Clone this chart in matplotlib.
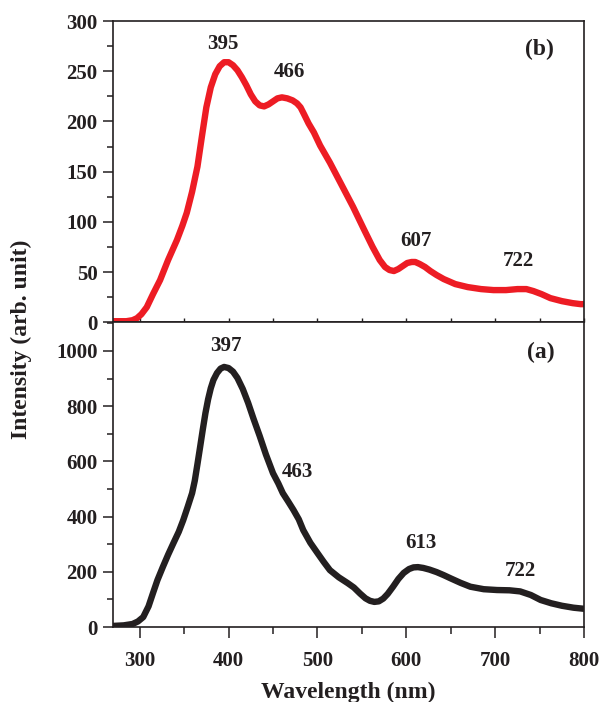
import numpy as np
import matplotlib
matplotlib.use("Agg")
import matplotlib.pyplot as plt
from matplotlib.ticker import MultipleLocator

plt.rcParams['font.family'] = ['Liberation Serif', 'DejaVu Serif']
plt.rcParams['font.weight'] = 'bold'

# (b) spectrum, red
wl_b = [270, 285, 292, 297, 302, 308, 315, 323, 332, 342, 348, 353, 359, 365, 370,
        375, 380, 385, 390, 395, 400, 405, 410, 415, 420, 425, 430, 435, 440, 445,
        450, 455, 460, 466, 472, 477, 481, 485, 490, 496, 503, 514, 527,
        540, 552, 562, 570, 576, 581, 586, 591, 596, 601, 606, 610, 615, 621, 627,
        634, 642, 655, 669, 684, 698, 712, 725, 735, 743, 752, 762, 775, 787, 796, 800]
int_b = [1, 1, 2, 4, 8, 15, 28, 42, 62, 82, 96, 109, 130, 155, 185,
         214, 234, 247, 255, 259, 259, 256, 251, 244, 236, 227, 220, 216, 215, 217,
         220, 223, 224, 223, 221, 218, 214, 207, 198, 189, 176, 159, 137,
         115, 93, 75, 62, 55, 52, 51, 53, 56, 59, 60, 60, 58, 55, 51,
         47, 43, 38, 35, 33, 32, 32, 33, 33, 31, 28, 24, 21, 19, 18, 18]

# (a) spectrum, black
wl_a = [270, 282, 292, 298, 304, 310, 315, 320, 326, 332, 338, 344, 349, 354, 359,
        362, 365, 368, 371, 374, 377, 380, 383, 387, 391, 395, 400, 405, 410, 416,
        422, 428, 435, 442, 450, 456, 461, 467, 473, 479, 484, 492, 500, 507, 514,
        524, 534, 541, 548, 554, 559, 564, 569, 574, 579, 585, 591, 597, 603, 608,
        613, 619, 626, 634, 642, 650, 661, 672, 687, 702, 716, 728, 740, 751, 763,
        775, 788, 800]
int_a = [4, 6, 11, 20, 36, 75, 123, 170, 217, 262, 304, 345, 387, 435, 485,
         530, 590, 652, 715, 775, 825, 865, 895, 920, 936, 942, 938, 925, 902, 862,
         812, 755, 692, 625, 557, 520, 485, 455, 424, 390, 351, 305, 268, 236, 206,
         180, 159, 143, 121, 104, 95, 91, 93, 103, 120, 146, 174, 196, 210, 216,
         217, 214, 208, 199, 188, 176, 160, 146, 137, 134, 133, 129, 116, 98, 86,
         77, 70, 66]

labels_b = ["395", "466", "607", "722"]
label_pos_b = [(393, 277), (469, 249), (611, 81), (726, 61)]
labels_a = ["397", "463", "613", "722"]
label_pos_a = [(397, 1017), (477, 561), (616, 304), (728, 203)]

edge = '#231f20'
fig = plt.figure(figsize=(6.01, 7.02), dpi=100)
ax_b = fig.add_axes([0.188, 0.541, 0.784, 0.429])
ax_a = fig.add_axes([0.188, 0.1068, 0.784, 0.4342], sharex=ax_b)

ax_b.plot(wl_b, int_b, color='#ed1c24', linewidth=4.6, solid_capstyle='round', solid_joinstyle='round')
ax_a.plot(wl_a, int_a, color=edge, linewidth=4.6, solid_capstyle='round', solid_joinstyle='round')

for t, (x, y) in zip(labels_b, label_pos_b):
    ax_b.text(x, y, t, ha='center', va='center', fontsize=15, fontweight='bold', color=edge)
for t, (x, y) in zip(labels_a, label_pos_a):
    ax_a.text(x, y, t, ha='center', va='center', fontsize=15, fontweight='bold', color=edge)
ax_b.text(750, 272, "(b)", ha='center', va='center', fontsize=17, fontweight='bold', color=edge)
ax_a.text(751, 995, "(a)", ha='center', va='center', fontsize=17, fontweight='bold', color=edge)

ax_b.set_xlim(270, 800)
ax_b.set_ylim(0, 300)
ax_a.set_ylim(0, 1104)

for ax in (ax_a, ax_b):
    for s in ax.spines.values():
        s.set_color(edge)
        s.set_linewidth(1.2)
    ax.xaxis.set_major_locator(MultipleLocator(100))
    ax.xaxis.set_minor_locator(MultipleLocator(50))
    ax.tick_params(axis='y', which='major', direction='out', length=7, width=1.1,
                   color=edge, labelsize=15, pad=4, labelcolor=edge)
    ax.tick_params(axis='y', which='minor', direction='out', length=4, width=1.1, color=edge)

ax_b.yaxis.set_major_locator(MultipleLocator(50))
ax_b.yaxis.set_minor_locator(MultipleLocator(25))
ax_a.yaxis.set_major_locator(MultipleLocator(200))
ax_a.yaxis.set_minor_locator(MultipleLocator(100))

ax_b.tick_params(axis='x', which='both', direction='in', length=3, width=1, color=edge, labelbottom=False)
ax_a.tick_params(axis='x', which='major', direction='out', length=8, width=1.1, color=edge,
                 labelsize=15, pad=9, labelcolor=edge)
ax_a.tick_params(axis='x', which='minor', direction='out', length=5, width=1.1, color=edge)

for lab in ax_a.get_xticklabels() + ax_a.get_yticklabels() + ax_b.get_yticklabels():
    lab.set_fontweight('bold')

ax_a.set_xlabel("Wavelength (nm)", fontsize=17, fontweight='bold', color=edge, labelpad=8)
fig.text(0.035, 0.517, "Intensity (arb. unit)", rotation=90, ha='center', va='center',
         fontsize=17, fontweight='bold', color=edge)

fig.savefig("out.png", dpi=100)
